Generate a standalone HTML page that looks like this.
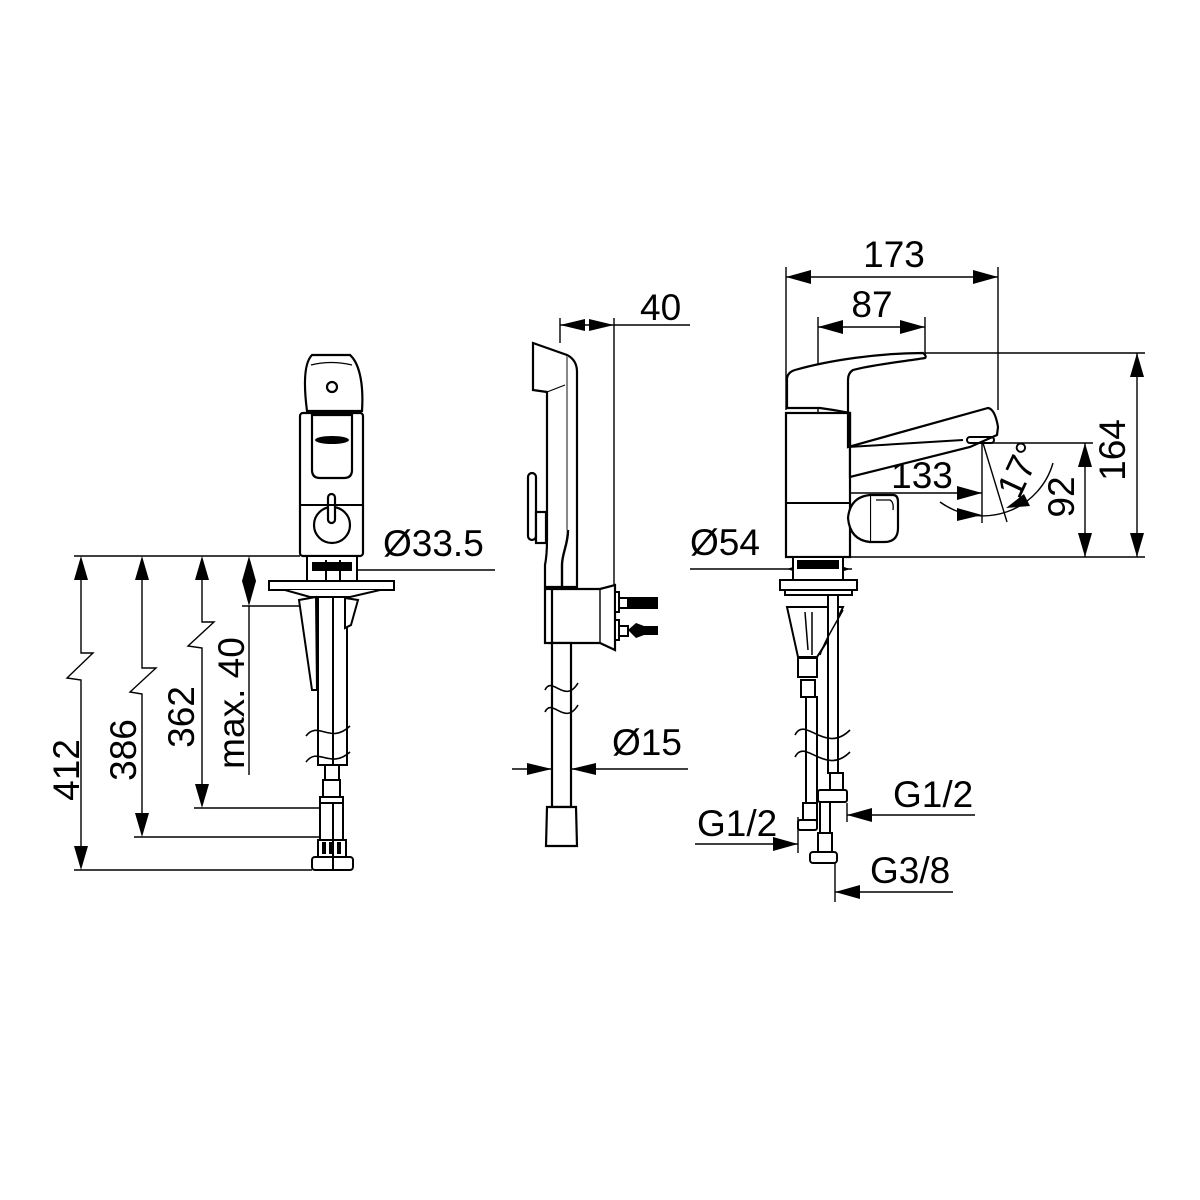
<!DOCTYPE html>
<html><head><meta charset="utf-8"><style>
html,body{margin:0;padding:0;background:#fff}
svg{display:block}
text{font-family:"Liberation Sans",Arial,sans-serif;font-size:37px;fill:#000}
</style></head><body>
<svg width="1200" height="1200" viewBox="0 0 1200 1200" xmlns="http://www.w3.org/2000/svg">
<g fill="none" stroke="#000" stroke-width="1.4">
<line x1="74" y1="556" x2="300" y2="556"/>
<line x1="74" y1="870" x2="312" y2="870"/>
<line x1="134" y1="837" x2="320" y2="837"/>
<line x1="194" y1="808" x2="320" y2="808"/>
<line x1="242" y1="606" x2="318" y2="606"/>
<path d="M81 580 V653 H93 L67 678 L81 680 V846"/>
<path d="M142 580 V668 H156 L130 692 L142 694 V813"/>
<path d="M202 580 V622 H214 L188 646 L202 648 V784"/>
<line x1="249" y1="606" x2="249" y2="775"/>
<line x1="333" y1="570" x2="495" y2="570"/>
</g>
<g fill="#000">
<polygon points="81,556 74,580 88,580"/><polygon points="81,870 74,846 88,846"/>
<polygon points="142,556 135,580 149,580"/><polygon points="142,837 135,813 149,813"/>
<polygon points="202,556 195,580 209,580"/><polygon points="202,808 195,784 209,784"/>
<polygon points="249,556 242,581 249,606 256,581"/>
</g>
<text x="81" y="770" transform="rotate(-90 81 770)" text-anchor="middle" dy="-2">412</text>
<text x="136" y="750" transform="rotate(-90 136 750)" text-anchor="middle">386</text>
<text x="194" y="717" transform="rotate(-90 194 717)" text-anchor="middle">362</text>
<text x="244" y="703" transform="rotate(-90 244 703)" text-anchor="middle">max. 40</text>
<text x="383" y="556">Ø33.5</text>

<!-- LEFT faucet -->
<g fill="#fff" stroke="#000" stroke-width="2.2">
<rect x="300" y="413" width="63" height="143" rx="3"/>
<path d="M307 411 C303 380 305 362 312 355 H350 C358 362 364 380 362 411 Z"/>
<path d="M312 415 H352 V470 Q352 478 344 478 H320 Q312 478 312 470 Z"/>
<circle cx="332" cy="525" r="18"/>
<rect x="328" y="494" width="7" height="29" rx="3.5"/>
<circle cx="332" cy="387" r="5"/>
</g>
<g stroke="#000" fill="none" stroke-width="2">
<line x1="300" y1="505" x2="363" y2="505"/>
<path d="M311 365 Q331 360 352 365" stroke-width="1.2"/>
</g>
<ellipse cx="332" cy="440" rx="17" ry="4" fill="#000"/>
<g fill="#fff" stroke="#000" stroke-width="2">
<rect x="307" y="556" width="50" height="25"/>
<rect x="269" y="581" width="125" height="9"/>
<path d="M285 590 L310 597 H350 L380 590"/>
<rect x="318" y="597" width="29" height="168"/>
<path d="M299 600 L316 597 L317 690 L312 690 Z"/>
<path d="M345 598 L358 600 L351 625 L345 628 Z"/>
<rect x="323" y="780" width="17" height="17"/>
<rect x="320" y="797" width="23" height="6"/>
<rect x="320" y="803" width="23" height="37"/>
<rect x="318" y="840" width="28" height="17"/>
<rect x="312" y="857" width="41" height="13" rx="3"/>
</g>
<g stroke="#000" stroke-width="2">
<line x1="325" y1="765" x2="325" y2="780"/><line x1="339" y1="765" x2="339" y2="780"/>
<line x1="333" y1="597" x2="333" y2="765"/><line x1="333" y1="803" x2="333" y2="870"/>
<line x1="326" y1="560" x2="326" y2="581"/><line x1="340" y1="560" x2="340" y2="581"/>
</g>
<rect x="312" y="562" width="40" height="9" fill="#000"/>
<path d="M306 736 C318 720 330 745 350 726 M306 762 C318 746 330 770 350 752" stroke="#000" stroke-width="1.6" fill="none"/>
<g fill="#000"><rect x="322" y="842" width="4" height="12"/><rect x="329" y="842" width="4" height="12"/><rect x="337" y="842" width="4" height="12"/></g>

<!-- MIDDLE -->
<g fill="none" stroke="#000" stroke-width="1.4">
<line x1="560" y1="318" x2="560" y2="343"/>
<line x1="614" y1="318" x2="614" y2="585"/>
<line x1="560" y1="325" x2="690" y2="325"/>
<line x1="512" y1="769" x2="688" y2="769"/>
</g>
<g fill="#000">
<polygon points="560,325 585,319 585,331"/><polygon points="614,325 589,319 589,331"/>
<polygon points="552,769 527,763 527,775"/><polygon points="571,769 596,763 596,775"/>
</g>
<text x="640" y="320">40</text>
<text x="612" y="755">Ø15</text>
<g fill="#fff" stroke="#000" stroke-width="2.2">
<path d="M533 343 L567 355 Q577 360 577 372 V587 H545 V565 Q547 555 547 540 V392 L533 390 Z"/>
<rect x="528" y="473" width="8" height="67" rx="4"/>
<rect x="536" y="512" width="10" height="31"/>
<path d="M550 589 H600 L615 585 V650 L600 643 H550 Z"/>
<rect x="545" y="589" width="7" height="54"/>
<rect x="552" y="643" width="19" height="164"/>
<path d="M547 807 H576 L577 846 H546 Z"/>
</g>
<g stroke="#000" fill="none">
<line x1="567" y1="356" x2="567" y2="530" stroke="#888" stroke-width="2"/>
<path d="M568 530 C568 545 562 553 562 565 V587" stroke-width="2.4"/>
<line x1="547" y1="392" x2="565" y2="385" stroke-width="1.2"/>
<line x1="600" y1="590" x2="600" y2="643" stroke-width="1.4"/>
</g>
<g stroke="#000" stroke-width="2" fill="#fff">
<rect x="615" y="592" width="4" height="20"/><rect x="615" y="620" width="4" height="20"/>
<rect x="619" y="598" width="9" height="10"/><rect x="619" y="626" width="9" height="10"/>
</g>
<rect x="628" y="597" width="30" height="12" fill="#000"/>
<polygon points="628,630 636,623 644,626 658,626 658,635 644,635 636,638" fill="#000"/>
<path d="M545 690 C552 675 565 705 578 683 M545 712 C552 697 565 727 578 705" stroke="#000" stroke-width="1.6" fill="none"/>

<!-- RIGHT dims -->
<g fill="none" stroke="#000" stroke-width="1.4">
<line x1="786" y1="267" x2="786" y2="410"/>
<line x1="998" y1="267" x2="998" y2="410"/>
<line x1="786" y1="277" x2="998" y2="277"/>
<line x1="818" y1="317" x2="818" y2="556"/>
<line x1="925" y1="317" x2="925" y2="355"/>
<line x1="818" y1="327" x2="925" y2="327"/>
<line x1="925" y1="353" x2="1145" y2="353"/>
<line x1="850" y1="557" x2="1145" y2="557"/>
<line x1="990" y1="443" x2="1093" y2="443"/>
<line x1="1085" y1="443" x2="1085" y2="557"/>
<line x1="1137" y1="353" x2="1137" y2="557"/>
<line x1="818" y1="493" x2="982" y2="493"/>
<line x1="982" y1="443" x2="982" y2="523"/>
<line x1="983" y1="443" x2="1007" y2="522"/>
<path d="M940 502 A73 73 0 0 0 1053 463"/>
<line x1="690" y1="569" x2="852" y2="569"/>
<line x1="847" y1="803" x2="847" y2="822"/>
<line x1="847" y1="815" x2="975" y2="815"/>
<line x1="798" y1="817" x2="798" y2="853"/>
<line x1="695" y1="844" x2="798" y2="844"/>
<line x1="835" y1="863" x2="835" y2="902"/>
<line x1="835" y1="892" x2="953" y2="892"/>
</g>
<g fill="#000">
<polygon points="786,277 811,270 811,284"/><polygon points="998,277 973,270 973,284"/>
<polygon points="818,327 843,320 843,334"/><polygon points="925,327 900,320 900,334"/>
<polygon points="1085,443 1078,467 1092,467"/><polygon points="1085,557 1078,533 1092,533"/>
<polygon points="1137,353 1130,377 1144,377"/><polygon points="1137,557 1130,533 1144,533"/>
<polygon points="818,493 843,486 843,500"/><polygon points="982,493 957,486 957,500"/>
<polygon points="982,515 957,508 957,521"/>
<polygon points="1006,508 1024,494 1030,506"/>
<polygon points="787,569 808,562 808,576"/><polygon points="850,569 829,562 829,576"/>
<polygon points="847,815 872,808 872,822"/>
<polygon points="798,844 773,837 773,851"/>
<polygon points="835,892 860,885 860,899"/>
</g>
<text x="894" y="267" text-anchor="middle">173</text>
<text x="872" y="317" text-anchor="middle">87</text>
<text x="922" y="488" text-anchor="middle">133</text>
<text x="1062" y="497" transform="rotate(-90 1062 497)" text-anchor="middle" dy="12">92</text>
<text x="1113" y="450" transform="rotate(-90 1113 450)" text-anchor="middle" dy="12">164</text>
<text x="1020" y="470" transform="rotate(-65 1020 470)" text-anchor="middle" dy="12">17°</text>
<text x="690" y="555">Ø54</text>
<text x="893" y="807">G1/2</text>
<text x="697" y="836">G1/2</text>
<text x="870" y="883">G3/8</text>

<!-- RIGHT faucet -->
<g fill="#fff" stroke="#000" stroke-width="2.2">
<rect x="786" y="413" width="64" height="144"/>
<path d="M787 408 V378 Q788 372 795 370 C830 360 880 353 923 353 Q927 356 925 358 C900 362 870 365 853 370 Q848 373 848 380 V447 L988 408 Q995 409 998 427 L997 435 L970 447 L850 477 V413 Q835 410 820 408 Z"/>
<path d="M870 495 H893 Q898 495 898 502 V528 Q898 542 884 542 H870 Z"/>
<path d="M870 495 Q850 497 848 518 Q850 540 870 542"/>
</g>
<g stroke="#000" stroke-width="2" fill="none">
<line x1="786" y1="503" x2="850" y2="503"/>
<line x1="848" y1="447" x2="963" y2="440"/>
<path d="M876 500 H890 Q894 502 893 510" stroke-width="1.3"/>
<rect x="967" y="437" width="27" height="6" rx="3"/>
</g>
<g fill="#fff" stroke="#000" stroke-width="2">
<rect x="793" y="557" width="50" height="23"/>
<rect x="780" y="580" width="77" height="10"/>
<rect x="785" y="590" width="67" height="5"/>
<path d="M787 607 H843 L828 640 L817 657 H798 Z"/>
<rect x="798" y="658" width="19" height="19"/>
<rect x="801" y="680" width="14" height="17"/>
<rect x="806" y="697" width="11" height="106"/>
<rect x="828" y="595" width="10" height="178"/>
<rect x="830" y="773" width="13" height="17"/>
<rect x="818" y="790" width="29" height="12" rx="2"/>
<rect x="820" y="802" width="10" height="31"/>
<rect x="818" y="833" width="14" height="19"/>
<rect x="810" y="852" width="27" height="11" rx="3"/>
<rect x="803" y="803" width="14" height="17"/>
<rect x="798" y="820" width="19" height="10" rx="2"/>
</g>
<rect x="797" y="560" width="42" height="9" fill="#000"/>
<g stroke="#000" stroke-width="1.5"><line x1="805" y1="612" x2="808" y2="650"/><line x1="812" y1="612" x2="812" y2="655"/><path d="M843 610 C835 625 825 640 820 655" fill="none"/></g>
<path d="M795 735 C805 715 825 755 850 730 M795 757 C805 737 825 777 850 752" stroke="#000" stroke-width="1.6" fill="none"/>
</svg>
</body></html>
